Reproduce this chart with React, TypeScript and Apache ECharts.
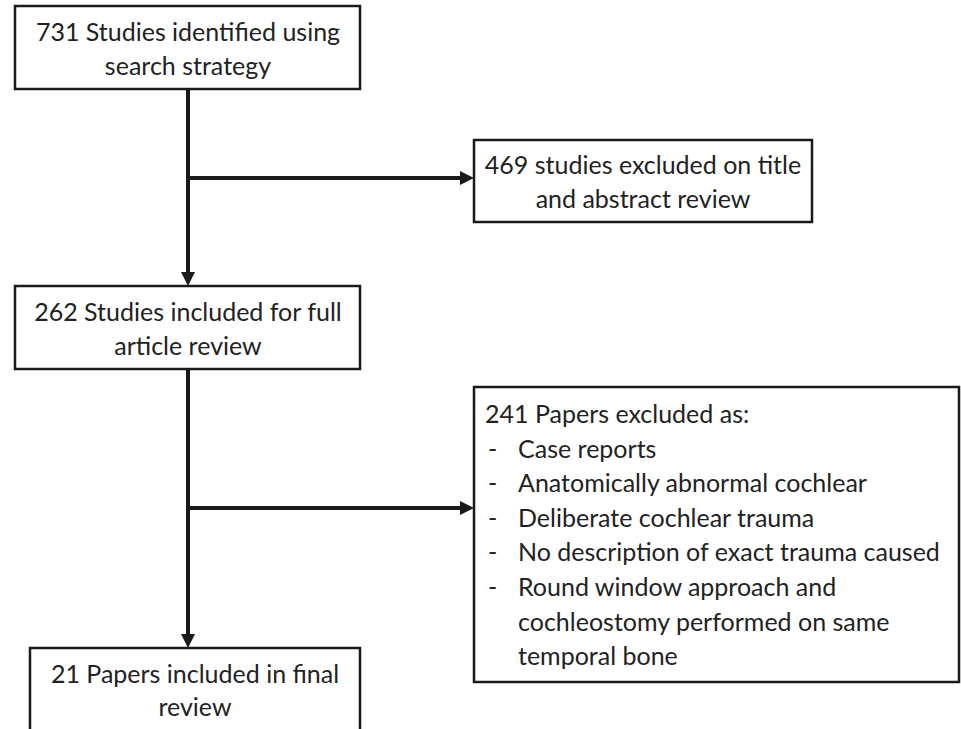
import React, { useEffect, useRef } from "react";
import * as echarts from "echarts";

const box1Lines = ["731 Studies identified using", "search strategy"];
const box2Lines = ["469 studies excluded on title", "and abstract review"];
const box3Lines = ["262 Studies included for full", "article review"];
const box4Lines = ["21 Papers included in final", "review"];
const box5Title = "241 Papers excluded as:";
const box5Items = [
  ["Case reports"],
  ["Anatomically abnormal cochlear"],
  ["Deliberate cochlear trauma"],
  ["No description of exact trauma caused"],
  ["Round window approach and", "cochleostomy performed on same", "temporal bone"],
];

const FONT = "25px Lato, 'Open Sans', sans-serif";
const INK = "#1a1a1a";

export default function App() {
  const ref = useRef<HTMLDivElement>(null);
  useEffect(() => {
    if (!ref.current) return;
    const chart = echarts.init(ref.current, undefined, { renderer: "svg" });
    const els: any[] = [];
    const rect = (x: number, y: number, w: number, h: number) =>
      els.push({
        type: "rect",
        shape: { x, y, width: w, height: h },
        style: { fill: "#fff", stroke: INK, lineWidth: 2.5 },
        z: 1,
      });
    const text = (t: string, x: number, y: number, align = "center") =>
      els.push({
        type: "text",
        style: { text: t, x, y, font: FONT, fill: "#222", align, verticalAlign: "middle" },
        z: 2,
      });
    const vArrow = (x: number, y1: number, y2: number) => {
      els.push({ type: "line", shape: { x1: x, y1, x2: x, y2: y2 - 12 }, style: { stroke: INK, lineWidth: 4 }, z: 0 });
      els.push({ type: "polygon", shape: { points: [[x - 7, y2 - 14], [x + 7, y2 - 14], [x, y2]] }, style: { fill: INK }, z: 3 });
    };
    const hArrow = (x1: number, x2: number, y: number) => {
      els.push({ type: "line", shape: { x1, y1: y, x2: x2 - 12, y2: y }, style: { stroke: INK, lineWidth: 4 }, z: 0 });
      els.push({ type: "polygon", shape: { points: [[x2 - 14, y - 7], [x2 - 14, y + 7], [x2, y]] }, style: { fill: INK }, z: 3 });
    };

    // boxes
    rect(15, 6, 345, 83);
    box1Lines.forEach((t, i) => text(t, 188, 31 + i * 34));
    rect(474, 140, 338, 82);
    box2Lines.forEach((t, i) => text(t, 643, 164 + i * 34));
    rect(15, 286, 345, 83);
    box3Lines.forEach((t, i) => text(t, 188, 311 + i * 34));
    rect(30, 648, 330, 84);
    box4Lines.forEach((t, i) => text(t, 195, 673 + i * 33));
    rect(474, 387, 485, 295);
    text(box5Title, 485, 413, "left");
    let row = 1;
    box5Items.forEach((lines) => {
      text("-", 488, 413 + row * 34.6, "left");
      lines.forEach((l) => {
        text(l, 518, 413 + row * 34.6, "left");
        row++;
      });
    });

    // arrows
    vArrow(188, 89, 286);
    hArrow(188, 474, 178);
    vArrow(188, 369, 648);
    hArrow(188, 474, 508);

    chart.setOption({
      animation: false,
      backgroundColor: "#fff",
      graphic: { elements: els },
    });
    return () => chart.dispose();
  }, []);
  return (
    <div
      ref={ref}
      style={{ position: "absolute", left: 0, top: 0, width: 961, height: 729 }}
    />
  );
}
